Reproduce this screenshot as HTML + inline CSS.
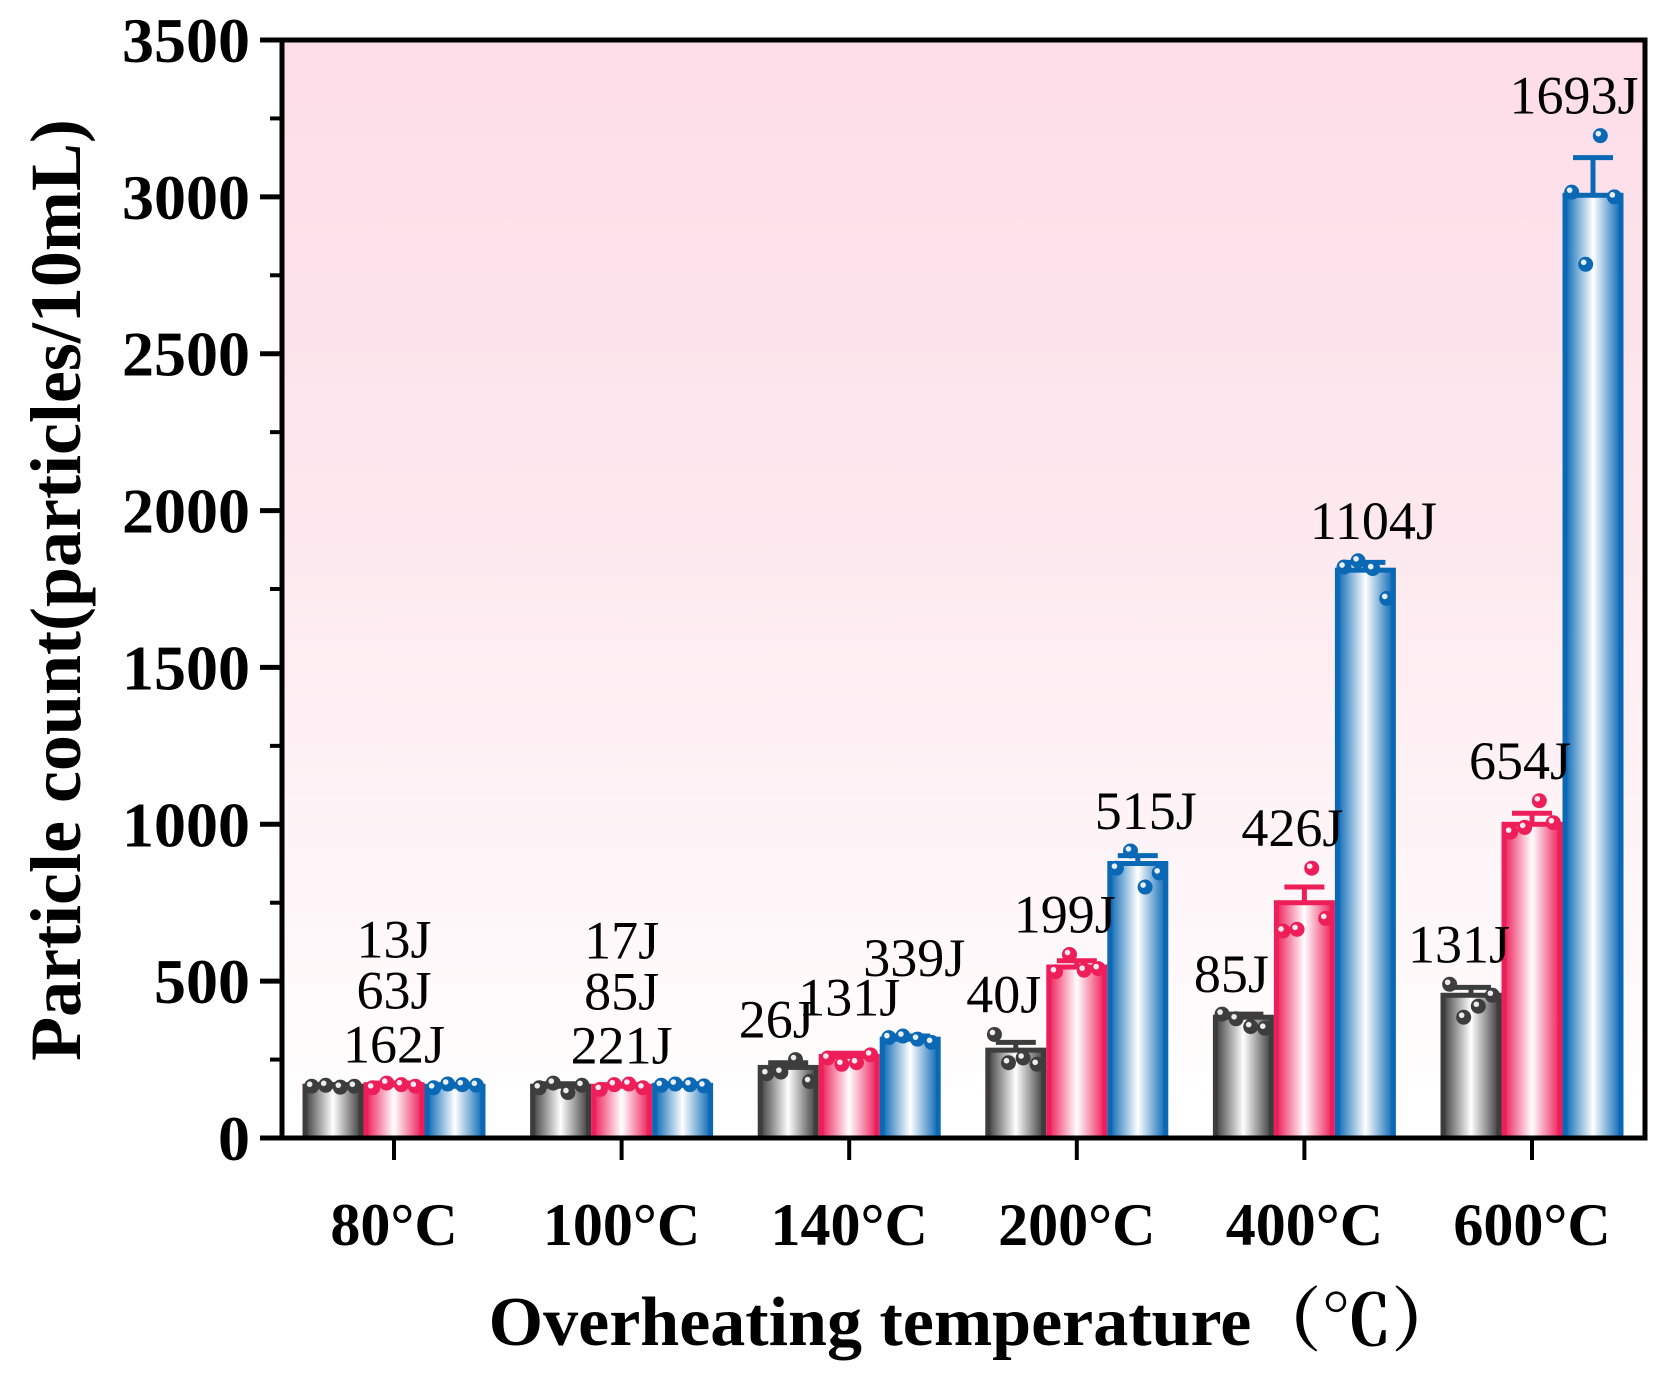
<!DOCTYPE html>
<html><head><meta charset="utf-8">
<style>
body{margin:0;background:#fff;}
svg{display:block;font-family:"Liberation Serif","Noto Serif CJK SC",serif;}
</style></head>
<body>
<svg id="chart" width="1666" height="1375" viewBox="0 0 1666 1375" xmlns="http://www.w3.org/2000/svg">
<defs>
<linearGradient id="bg" x1="0" y1="0" x2="0" y2="1">
<stop offset="0" stop-color="#fddde8"/><stop offset="0.45" stop-color="#fde9ef"/><stop offset="0.9" stop-color="#fffbfc"/><stop offset="1" stop-color="#ffffff"/>
</linearGradient>
<linearGradient id="g0" x1="0" x2="1"><stop offset="0" stop-color="#3d3d3d"/><stop offset="0.5" stop-color="#ffffff"/><stop offset="1" stop-color="#3d3d3d"/></linearGradient>
<linearGradient id="g1" x1="0" x2="1"><stop offset="0" stop-color="#ee1e5a"/><stop offset="0.5" stop-color="#ffffff"/><stop offset="1" stop-color="#ee1e5a"/></linearGradient>
<linearGradient id="g2" x1="0" x2="1"><stop offset="0" stop-color="#0a68b5"/><stop offset="0.5" stop-color="#ffffff"/><stop offset="1" stop-color="#0a68b5"/></linearGradient>
</defs>
<rect x="282" y="40" width="1363" height="1098" fill="url(#bg)"/>
<g id="bars"></g>
<g id="axes"></g>
<text x="975" y="1345" font-size="70" font-weight="bold" text-anchor="middle">Overheating temperature（℃）</text>
<text transform="translate(80,590) rotate(-90)" font-size="72" font-weight="bold" text-anchor="middle">Particle count(particles/10mL)</text>
</svg>
<script>
const categories = ["80°C","100°C","140°C","200°C","400°C","600°C"];
const series0 = [165,165,225,280,385,455];
const series1 = [170,165,260,545,750,1000];
const series2 = [165,168,315,875,1810,3005];
const err0 = [5,8,15,25,10,25];
const err1 = [5,5,10,20,50,35];
const err2 = [5,5,10,25,25,120];
const points0 = [[165,168,162,165],[160,175,145,168],[205,210,250,180],[330,240,255,235],[395,380,355,350],[490,385,420,455]];
const points1 = [[160,175,170,165],[155,170,172,160],[255,235,240,265],[530,585,535,540],[660,665,860,700],[975,990,1075,1005]];
const points2 = [[160,172,170,168],[168,172,170,166],[320,325,315,305],[860,915,800,845],[1820,1840,1815,1720],[3015,2785,3195,3000]];
const labels0 = ["13J","17J","26J","40J","85J","131J"];
const labels1 = ["63J","85J","131J","199J","426J","654J"];
const labels2 = ["162J","221J","339J","515J","1104J","1693J"];
const yTicks = [0,500,1000,1500,2000,2500,3000,3500];

const NS="http://www.w3.org/2000/svg";
const X0=282,X1=1645,Y0=1138,Y1=40,YMAX=3500;
const y=v=>Y0-(v/YMAX)*(Y0-Y1);
const x=i=>394+i*227.6;
const BW=61;
const cols=["#3d3d3d","#ee1e5a","#0a68b5"];
const S=[series0,series1,series2],E=[err0,err1,err2],P=[points0,points1,points2],L=[labels0,labels1,labels2];
function mk(tag,attrs,parent){const e=document.createElementNS(NS,tag);for(const k in attrs)e.setAttribute(k,attrs[k]);parent.appendChild(e);return e;}
const bars=document.getElementById('bars'),axes=document.getElementById('axes');
for(let i=0;i<categories.length;i++){
  for(let s=0;s<3;s++){
    const cx=x(i)+(s-1)*BW, v=S[s][i];
    const r=mk('rect',{x:cx-BW/2+2.5,y:y(v),width:BW-5,height:Y0-y(v),fill:`url(#g${s})`,stroke:cols[s],'stroke-width':5},bars);
    
    
    const e=E[s][i];
    const eb=mk('path',{d:`M${cx} ${y(v)} V${y(v+e)} M${cx-20} ${y(v+e)} H${cx+20}`,stroke:cols[s],'stroke-width':5,fill:'none'},bars);
    
    
    const offs=[-0.35,-0.12,0.12,0.35];
    P[s][i].forEach((pv,k)=>{
      const px=cx+offs[k]*BW;
      const c=mk('circle',{cx:px,cy:y(pv),r:7.5,fill:cols[s]},bars);
      
      
      mk('circle',{cx:px-2,cy:y(pv)-2,r:2.8,fill:'#fff',opacity:0.9},bars);
    });
  }
  const xl=mk('text',{x:x(i),y:1245,'font-size':60,'font-weight':'bold','text-anchor':'middle'},axes);
  xl.textContent=categories[i];
  
  
  mk('line',{x1:x(i),x2:x(i),y1:Y0,y2:Y0+22,stroke:'#000','stroke-width':4},axes);
}
function ann(t,ax,ay){const a=mk('text',{x:ax,y:ay,'font-size':54,'text-anchor':'middle'},axes);a.textContent=t;

}
for(let i=0;i<2;i++){
  const top=Math.max(series0[i],series1[i],series2[i]);
  ann(L[0][i],x(i),y(top)-127);ann(L[1][i],x(i),y(top)-76);ann(L[2][i],x(i),y(top)-22);
}
for(let i=2;i<6;i++){
  for(let s=0;s<3;s++){
    let cx=x(i)+(s-1)*BW+(s==2?8:-12);
    if(i==2&&s==1)cx+=12;
    if(i==2&&s==2)cx-=4;
    const top=Math.max(S[s][i]+E[s][i],...P[s][i]);
    const w=L[s][i].length*26;
    if(cx+w/2>X1-6)cx=X1-6-w/2;
    let dy=22;
    if(i==2&&s==1)dy=38;
    if(i==2&&s==2)dy=60;
    ann(L[s][i],cx,y(top)-dy);
  }
}
mk('rect',{x:X0,y:Y1,width:X1-X0,height:Y0-Y1,fill:'none',stroke:'#000','stroke-width':5},axes);
yTicks.forEach(t=>{
  mk('line',{x1:X0-22,x2:X0,y1:y(t),y2:y(t),stroke:'#000','stroke-width':5},axes);
  const mt=t+250;if(mt<YMAX)mk('line',{x1:X0-12,x2:X0,y1:y(mt),y2:y(mt),stroke:'#000','stroke-width':4},axes);
  const tl=mk('text',{x:X0-32,y:y(t)+22,'font-size':64,'font-weight':'bold','text-anchor':'end'},axes);
  tl.textContent=t;
  
  
});
</script>
</body></html>
